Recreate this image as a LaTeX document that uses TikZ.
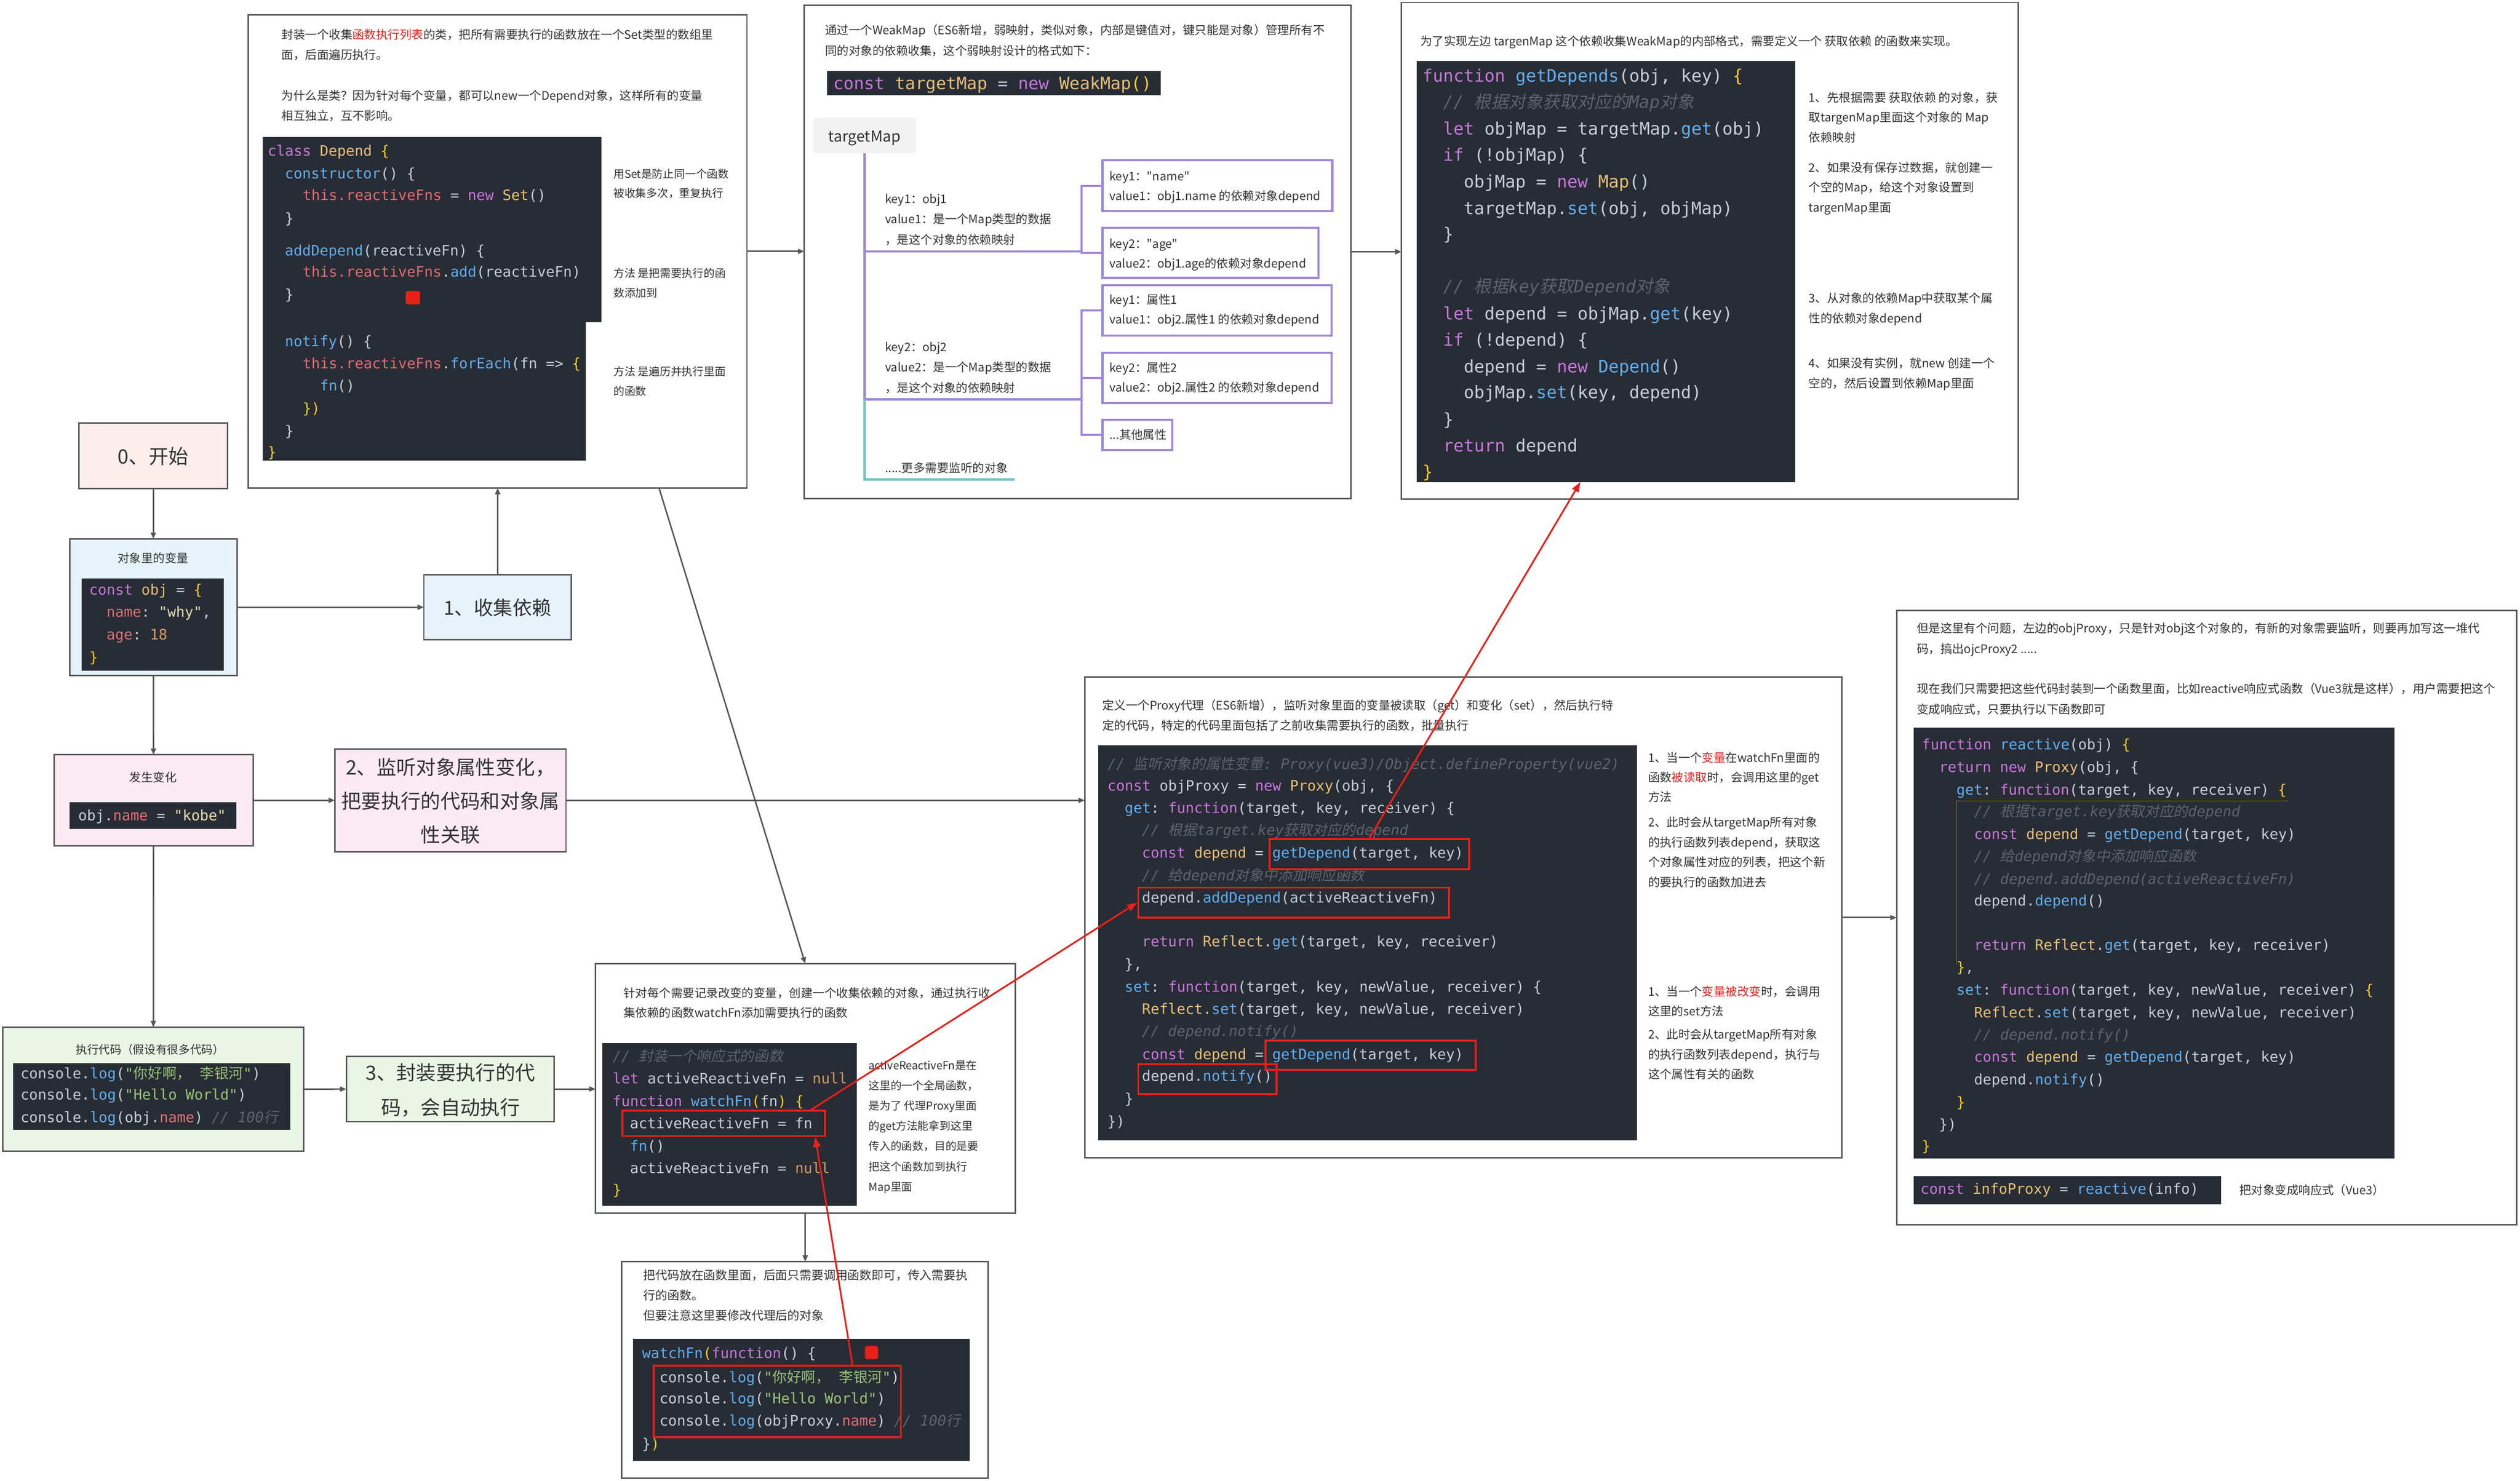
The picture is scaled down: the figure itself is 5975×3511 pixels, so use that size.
\documentclass[tikz,border=0pt]{standalone}
\usepackage{fontspec}
\setmainfont{Noto Sans CJK SC}
\setmonofont{DejaVu Sans Mono}
\newfontfamily\zhfont{Noto Sans CJK SC}
\newfontfamily\zhslant[FakeSlant=0.2]{Noto Sans CJK SC}
\usetikzlibrary{arrows.meta,fit}
\definecolor{cbg}{HTML}{282C34}
\definecolor{ckw}{HTML}{C678DD}
\definecolor{cfn}{HTML}{61AFEF}
\definecolor{cty}{HTML}{E5C07B}
\definecolor{cst}{HTML}{98C379}
\definecolor{cstp}{HTML}{E3DDB0}
\definecolor{cpr}{HTML}{E06C75}
\definecolor{cnum}{HTML}{D19A66}
\definecolor{ccm}{HTML}{5C6370}
\definecolor{cbr}{HTML}{F2CB2A}
\definecolor{ctx}{HTML}{C8CCD4}
\definecolor{cred}{HTML}{E8201A}
\definecolor{cline}{HTML}{585858}
\definecolor{ctext}{HTML}{333333}
\definecolor{cpur}{HTML}{A086D9}
\definecolor{cteal}{HTML}{6FC7C1}
\definecolor{pstart}{HTML}{FCEEEC}
\definecolor{pblue}{HTML}{E5F3FA}
\definecolor{ppink}{HTML}{FBEAF4}
\definecolor{pgreen}{HTML}{EAF5E6}
\definecolor{lgrey}{HTML}{F2F2F2}
\newcommand\zh[1]{{\zhfont #1}}
\newcommand\Ckw[1]{\textcolor{ckw}{#1}}
\newcommand\Cfn[1]{\textcolor{cfn}{#1}}
\newcommand\Cty[1]{\textcolor{cty}{#1}}
\newcommand\Cst[1]{\textcolor{cst}{#1}}
\newcommand\Csp[1]{\textcolor{cstp}{#1}}
\newcommand\Cpr[1]{\textcolor{cpr}{#1}}
\newcommand\Cnum[1]{\textcolor{cnum}{#1}}
\newcommand\Cbr[1]{\textcolor{cbr}{#1}}
\newcommand\Ccm[1]{{\color{ccm}\itshape\def\zh##1{{\zhslant ##1}}#1}}
\newcommand\rd[1]{\textcolor{cred}{#1}}
\newcounter{cln}
\newcommand\cl[4][codeline]{\stepcounter{cln}\node[#1] (cl\arabic{cln}) at (#2,#3) {#4};}
\tikzset{
  boxst/.style={draw=cline, line width=0.035cm, inner sep=0pt, outer sep=0pt},
  codebg/.style={fill=cbg, inner sep=0pt, outer sep=0pt},
  redbox/.style={draw=cred, line width=0.045cm, inner sep=0pt},
  purbox/.style={draw=cpur, line width=0.05cm, inner sep=0pt},
  garrow/.style={draw=cline, line width=0.035cm, -{Triangle[length=0.15cm,width=0.12cm]}},
  rarrow/.style={draw=cred, line width=0.04cm, -{Triangle[length=0.24cm,width=0.17cm]}},
  pline/.style={draw=cpur, line width=0.05cm},
  tline/.style={draw=cteal, line width=0.05cm},
  txt/.style={anchor=base west, inner sep=0pt, align=left, text=ctext, font=\fontsize{7.97pt}{13.37pt}\selectfont},
  codeline/.style={anchor=base west, inner sep=0pt, text=ctx, font=\fontsize{9.73pt}{12pt}\selectfont\ttfamily},
  codelineL/.style={codeline, font=\fontsize{11.58pt}{14pt}\selectfont\ttfamily},
  steptext/.style={inner sep=0pt, align=center, text=ctext},
}
\begin{document}
\begin{tikzpicture}[x=0.01cm,y=-0.01cm]
\useasboundingbox (0,0) rectangle (5975,3511);
\fill[white] (0,0) rectangle (5975,3511);

% ================= top-left box (Depend class)
\node[boxst, fit={(589,35)(1771,1157)}] (tl) {};
\node[txt, font=\fontsize{7.97pt}{13.66pt}\selectfont] (tlh) at (667,285) {封装一个收集\rd{函数执行列表}的类，把所有需要执行的函数放在一个Set类型的数组里\\面，后面遍历执行。\\[13.66pt]为什么是类？因为针对每个变量，都可以new一个Depend对象，这样所有的变量\\相互独立，互不影响。};
\fill[cbg] (623,325) -- (1426,325) -- (1426,764) -- (1389,764) -- (1389,1092) -- (623,1092) -- cycle;
\cl{634}{370}{\Ckw{class} \Cty{Depend} \Cbr{\{}}
\cl{675}{424}{\Cfn{constructor}() \{}
\cl{717}{475}{\Cpr{this.reactiveFns} = \Ckw{new} \Cty{Set}()}
\cl{675}{530}{\}}
\cl{675}{606}{\Cfn{addDepend}(reactiveFn) \{}
\cl{717}{657}{\Cpr{this.reactiveFns}.\Cfn{add}(reactiveFn)}
\cl{675}{711}{\}}
\cl{675}{822}{\Cfn{notify}() \{}
\cl{717}{874}{\Cpr{this.reactiveFns}.\Cfn{forEach}(fn => \Cbr{\{}}
\cl{758}{927}{\Cfn{fn}()}
\cl{717}{981}{\Cbr{\})}}
\cl{675}{1034}{\}}
\cl{634}{1085}{\Cbr{\}}}
\node[fill=cred, rounded corners=0.05cm, inner sep=0pt, fit={(962,690)(996,722)}] (rsq1) {};
\node[txt, font=\fontsize{7.4pt}{13.1pt}\selectfont] (tln1) at (1454,468) {用Set是防止同一个函数\\被收集多次，重复执行};
\node[txt, font=\fontsize{7.4pt}{13.37pt}\selectfont] (tln2) at (1454,705) {方法 是把需要执行的函\\数添加到};
\node[txt, font=\fontsize{7.4pt}{13.1pt}\selectfont] (tln3) at (1454,937) {方法 是遍历并执行里面\\的函数};

% ================= top-middle box (WeakMap)
\node[boxst, fit={(1907,12)(3203,1182)}] (tm) {};
\node[txt, font=\fontsize{7.97pt}{13.94pt}\selectfont] (tmh) at (1956,131) {通过一个WeakMap（ES6新增，弱映射，类似对象，内部是键值对，键只能是对象）管理所有不\\同的对象的依赖收集，这个弱映射设计的格式如下：};
\node[codebg, fit={(1961,168)(2752,226)}] (wmb) {};
\node[codeline, font=\fontsize{11.5pt}{14pt}\selectfont\ttfamily] (wmt) at (1975,212) {\Ckw{const} \Cty{targetMap} = \Ckw{new} \Cty{WeakMap}\Cbr{()}};
\node[fill=lgrey, rounded corners=0.08cm, inner sep=0pt, fit={(1928,279)(2172,363)}] (tml) {};
\node[steptext, font=\fontsize{10.24pt}{12pt}\selectfont] (tmlt) at (2050,328) {targetMap};
\coordinate (t1) at (2050,596);
\coordinate (t2) at (2050,947);
\coordinate (j1) at (2564,596);
\coordinate (j2) at (2564,947);
\coordinate (t3) at (2050,1137);
\coordinate (t4) at (2405,1137);
\node[purbox, fit={(2614,380)(3159,501)}] (pb1) {};
\node[purbox, fit={(2614,540)(3126,659)}] (pb2) {};
\node[purbox, fit={(2614,676)(3157,796)}] (pb3) {};
\node[purbox, fit={(2614,836)(3157,956)}] (pb4) {};
\node[purbox, fit={(2614,995)(2780,1067)}] (pb5) {};
\draw[pline] (tml.south) -- (t2);
\draw[pline] (t1) -- (j1);
\draw[pline] (t2) -- (j2);
\draw[pline] (pb1.west) -| (j1);
\draw[pline] (pb2.west) -| (j1);
\draw[pline] (pb3.west) -| (j2);
\draw[pline] (pb4.west) -| (j2);
\draw[pline] (pb5.west) -| (j2);
\draw[tline] (t2) -- (t3) -- (t4);
\node[txt, font=\fontsize{7.97pt}{13.8pt}\selectfont] (lab1) at (2098,579) {key1：obj1\\value1：是一个Map类型的数据\\，是这个对象的依赖映射};
\node[txt, font=\fontsize{7.97pt}{13.8pt}\selectfont] (lab2) at (2098,930) {key2：obj2\\value2：是一个Map类型的数据\\，是这个对象的依赖映射};
\node[txt] (lab3) at (2098,1120) {.....更多需要监听的对象};
\node[txt] (pbt1) at (2630,475) {key1：{\zhfont "name"}\\value1：obj1.name 的依赖对象depend};
\node[txt] (pbt2) at (2630,635) {key2：{\zhfont "age"}\\value2：obj1.age的依赖对象depend};
\node[txt] (pbt3) at (2630,768) {key1：属性1\\value1：obj2.属性1 的依赖对象depend};
\node[txt] (pbt4) at (2630,929) {key2：属性2\\value2：obj2.属性2 的依赖对象depend};
\node[txt] (pbt5) at (2630,1041) {...其他属性};

% ================= top-right box (getDepends)
\node[boxst, fit={(3323,6)(4785,1184)}] (tr) {};
\node[txt] (trh) at (3367,108) {为了实现左边 targenMap 这个依赖收集WeakMap的内部格式，需要定义一个 获取依赖 的函数来实现。};
\node[codebg, fit={(3359,145)(4256,1143)}] (trc) {};
\cl[codelineL]{3372}{194}{\Ckw{function} \Cfn{getDepends}(obj, key) \Cbr{\{}}
\cl[codelineL]{3421}{256}{\Ccm{// \zh{根据对象获取对应的}Map\zh{对象}}}
\cl[codelineL]{3421}{320}{\Ckw{let} objMap = targetMap.\Cfn{get}(obj)}
\cl[codelineL]{3421}{382}{\Ckw{if} (!objMap) \{}
\cl[codelineL]{3470}{445}{objMap = \Ckw{new} \Cty{Map}()}
\cl[codelineL]{3470}{508}{targetMap.\Cfn{set}(obj, objMap)}
\cl[codelineL]{3421}{570}{\}}
\cl[codelineL]{3421}{694}{\Ccm{// \zh{根据}key\zh{获取}Depend\zh{对象}}}
\cl[codelineL]{3421}{758}{\Ckw{let} depend = objMap.\Cfn{get}(key)}
\cl[codelineL]{3421}{820}{\Ckw{if} (!depend) \{}
\cl[codelineL]{3470}{884}{depend = \Ckw{new} \Cfn{Depend}()}
\cl[codelineL]{3470}{945}{objMap.\Cfn{set}(key, depend)}
\cl[codelineL]{3421}{1009}{\}}
\cl[codelineL]{3421}{1071}{\Ckw{return} depend}
\cl[codelineL]{3372}{1133}{\Cbr{\}}}
\node[txt] (trn1) at (4288,336) {1、先根据需要 获取依赖 的对象，获\\取targenMap里面这个对象的 Map\\依赖映射};
\node[txt] (trn2) at (4288,502) {2、如果没有保存过数据，就创建一\\个空的Map，给这个对象设置到\\targenMap里面};
\node[txt] (trn3) at (4288,765) {3、从对象的依赖Map中获取某个属\\性的依赖对象depend};
\node[txt] (trn4) at (4288,919) {4、如果没有实例，就new 创建一个\\空的，然后设置到依赖Map里面};

% ================= left column
\node[boxst, fill=pstart, fit={(187,1003)(540,1158)}] (s0) {};
\node[steptext, font=\fontsize{13.37pt}{16pt}\selectfont] (s0t) at (363,1082) {0、开始};
\node[boxst, fill=pblue, fit={(165,1278)(562,1602)}] (s1) {};
\node[steptext, font=\fontsize{7.97pt}{10pt}\selectfont] (s1t) at (363,1324) {对象里的变量};
\node[codebg, fit={(194,1372)(530,1590)}] (s1c) {};
\cl{211}{1411}{\Ckw{const} \Cty{obj} = \Cbr{\{}}
\cl{252}{1463}{\Cpr{name}: \Csp{"why"},}
\cl{252}{1517}{\Cpr{age}: \Cnum{18}}
\cl{211}{1571}{\Cbr{\}}}
\node[boxst, fill=pblue, fit={(1005,1363)(1355,1517)}] (c1) {};
\node[steptext, font=\fontsize{13.09pt}{16pt}\selectfont] (c1t) at (1180,1441) {1、收集依赖};
\node[boxst, fill=ppink, fit={(128,1790)(600,2006)}] (s2) {};
\node[steptext, font=\fontsize{7.97pt}{10pt}\selectfont] (s2t) at (363,1843) {发生变化};
\node[codebg, fit={(165,1902)(560,1966)}] (s2c) {};
\cl{185}{1946}{obj.\Cpr{name} = \Csp{"kobe"}}
\node[boxst, fill=ppink, fit={(794,1776)(1342,2020)}] (c2) {};
\node[steptext, font=\fontsize{13.37pt}{22.76pt}\selectfont] (c2t) at (1068,1900) {2、监听对象属性变化，\\把要执行的代码和对象属\\性关联};
\node[boxst, fill=pgreen, fit={(7,2436)(720,2730)}] (s3) {};
\node[steptext, font=\fontsize{7.7pt}{10pt}\selectfont] (s3t) at (356,2489) {执行代码（假设有很多代码）};
\node[codebg, fit={(31,2522)(688,2679)}] (s3c) {};
\cl{48}{2558}{console.\Cfn{log}(\Cst{"\zh{你好啊，} \zh{李银河}"})}
\cl{48}{2608}{console.\Cfn{log}(\Cst{"Hello World"})}
\cl{48}{2662}{console.\Cfn{log}(obj.\Cpr{name}) \Ccm{// 100\zh{行}}}
\node[boxst, fill=pgreen, fit={(821,2505)(1314,2660)}] (c3) {};
\node[steptext, font=\fontsize{13.37pt}{23.33pt}\selectfont] (c3t) at (1068,2585) {3、封装要执行的代\\码，会自动执行};

% ================= watchFn box
\node[boxst, fit={(1412,2285)(2407,2877)}] (wf) {};
\node[txt] (wfh) at (1478,2412) {针对每个需要记录改变的变量，创建一个收集依赖的对象，通过执行收\\集依赖的函数watchFn添加需要执行的函数};
\node[codebg, fit={(1428,2474)(2032,2859)}] (wfc) {};
\cl{1452}{2517}{\Ccm{// \zh{封装一个响应式的函数}}}
\cl{1452}{2570}{\Ckw{let} activeReactiveFn = \Cnum{null}}
\cl{1452}{2624}{\Ckw{function} \Cfn{watchFn}\Cbr{(}fn\Cbr{)} \Cbr{\{}}
\cl{1493}{2676}{activeReactiveFn = fn}
\cl{1493}{2730}{\Cfn{fn}()}
\cl{1493}{2783}{activeReactiveFn = \Cnum{null}}
\cl{1452}{2834}{\Cbr{\}}}
\node[redbox, fit={(1476,2634)(1956,2694)}] (rbA) {};
\node[txt, font=\fontsize{7.4pt}{13.66pt}\selectfont] (wfn) at (2059,2824) {activeReactiveFn是在\\这里的一个全局函数，\\是为了 代理Proxy里面\\的get方法能拿到这里\\传入的函数，目的是要\\把这个函数加到执行\\Map里面};

% ================= bottom box
\node[boxst, fit={(1474,2992)(2343,3505)}] (bt) {};
\node[txt, font=\fontsize{8.1pt}{13.5pt}\selectfont] (bth) at (1525,3130) {把代码放在函数里面，后面只需要调用函数即可，传入需要执\\行的函数。\\但要注意这里要修改代理后的对象};
\node[codebg, fit={(1501,3175)(2299,3464)}] (btc) {};
\cl{1522}{3221}{\Cfn{watchFn}\Cbr{(}\Ckw{function}() \{}
\cl{1563}{3278}{console.\Cfn{log}(\Cst{"\zh{你好啊，} \zh{李银河}"})}
\cl{1563}{3329}{console.\Cfn{log}(\Cst{"Hello World"})}
\cl{1563}{3381}{console.\Cfn{log}(objProxy.\Cpr{name}) \Ccm{// 100\zh{行}}}
\cl{1522}{3436}{\}\Cbr{)}}
\node[fill=cred, rounded corners=0.05cm, inner sep=0pt, fit={(2051,3192)(2082,3223)}] (rsq2) {};
\node[redbox, fit={(1550,3238)(2136,3408)}] (rbE) {};

% ================= Proxy box
\node[boxst, fit={(2572,1606)(4367,2746)}] (px) {};
\node[txt, font=\fontsize{7.97pt}{13.66pt}\selectfont] (pxh) at (2613,1731) {定义一个Proxy代理（ES6新增），监听对象里面的变量被读取（get）和变化（set），然后执行特\\定的代码，特定的代码里面包括了之前收集需要执行的函数，批量执行};
\node[codebg, fit={(2604,1767)(3881,2704)}] (pxc) {};
\cl{2625}{1824}{\Ccm{// \zh{监听对象的属性变量}: Proxy(vue3)/Object.defineProperty(vue2)}}
\cl{2625}{1875}{\Ckw{const} objProxy = \Ckw{new} \Cty{Proxy}(obj, \{}
\cl{2666}{1928}{\Cfn{get}: \Ckw{function}(target, key, receiver) \{}
\cl{2707}{1981}{\Ccm{// \zh{根据}target.key\zh{获取对应的}depend}}
\cl{2707}{2034}{\Ckw{const} \Cty{depend} = \Cfn{getDepend}(target, key)}
\cl{2707}{2088}{\Ccm{// \zh{给}depend\zh{对象中添加响应函数}}}
\cl{2707}{2141}{depend.\Cfn{addDepend}(activeReactiveFn)}
\cl{2707}{2245}{\Ckw{return} \Cty{Reflect}.\Cfn{get}(target, key, receiver)}
\cl{2666}{2298}{\},}
\cl{2666}{2352}{\Cfn{set}: \Ckw{function}(target, key, newValue, receiver) \{}
\cl{2707}{2405}{\Cty{Reflect}.\Cfn{set}(target, key, newValue, receiver)}
\cl{2707}{2458}{\Ccm{// depend.notify()}}
\cl{2707}{2512}{\Ckw{const} \Cty{depend} = \Cfn{getDepend}(target, key)}
\cl{2707}{2564}{depend.\Cfn{notify}()}
\cl{2666}{2618}{\}}
\cl{2625}{2671}{\})}
\node[redbox, fit={(3010,1990)(3483,2061)}] (rbC) {};
\node[redbox, fit={(2699,2105)(3436,2176)}] (rbB) {};
\node[redbox, fit={(3001,2468)(3499,2537)}] (rbD) {};
\node[redbox, fit={(2699,2524)(3027,2594)}] (rbF) {};
\node[txt] (pxn1) at (3907,1901) {1、当一个\rd{变量}在watchFn里面的\\函数\rd{被读取}时，会调用这里的get\\方法};
\node[txt] (pxn2) at (3907,2102) {2、此时会从targetMap所有对象\\的执行函数列表depend，获取这\\个对象属性对应的列表，把这个新\\的要执行的函数加进去};
\node[txt] (pxn3) at (3907,2409) {1、当一个\rd{变量被改变}时，会调用\\这里的set方法};
\node[txt] (pxn4) at (3907,2558) {2、此时会从targetMap所有对象\\的执行函数列表depend，执行与\\这个属性有关的函数};

% ================= right box (reactive)
\node[boxst, fit={(4497,1448)(5967,2904)}] (rb) {};
\node[txt, font=\fontsize{7.97pt}{13.94pt}\selectfont] (rbh1) at (4544,1549) {但是这里有个问题，左边的objProxy，只是针对obj这个对象的，有新的对象需要监听，则要再加写这一堆代\\码，搞出ojcProxy2 .....};
\node[txt, font=\fontsize{7.97pt}{13.94pt}\selectfont] (rbh2) at (4544,1693) {现在我们只需要把这些代码封装到一个函数里面，比如reactive响应式函数（Vue3就是这样），用户需要把这个\\变成响应式，只要执行以下函数即可};
\node[codebg, fit={(4537,1725)(5677,2747)}] (rbc) {};
\draw[cbr!60!cbg, line width=0.012cm] (4638,1900) -- (5424,1900);
\draw[cbr!60!cbg, line width=0.012cm] (4638,1900) -- (4638,2288);
\cl{4556}{1777}{\Ckw{function} \Cfn{reactive}(obj) \Cbr{\{}}
\cl{4597}{1831}{\Ckw{return} \Ckw{new} \Cty{Proxy}(obj, \{}
\cl{4638}{1885}{\Cfn{get}: \Ckw{function}(target, key, receiver) \Cbr{\{}}
\cl{4680}{1937}{\Ccm{// \zh{根据}target.key\zh{获取对应的}depend}}
\cl{4680}{1990}{\Ckw{const} \Cty{depend} = \Cfn{getDepend}(target, key)}
\cl{4680}{2043}{\Ccm{// \zh{给}depend\zh{对象中添加响应函数}}}
\cl{4680}{2097}{\Ccm{// depend.addDepend(activeReactiveFn)}}
\cl{4680}{2148}{depend.\Cfn{depend}()}
\cl{4680}{2253}{\Ckw{return} \Cty{Reflect}.\Cfn{get}(target, key, receiver)}
\cl{4638}{2306}{\Cbr{\}},}
\cl{4638}{2360}{\Cfn{set}: \Ckw{function}(target, key, newValue, receiver) \Cbr{\{}}
\cl{4680}{2413}{\Cty{Reflect}.\Cfn{set}(target, key, newValue, receiver)}
\cl{4680}{2466}{\Ccm{// depend.notify()}}
\cl{4680}{2519}{\Ckw{const} \Cty{depend} = \Cfn{getDepend}(target, key)}
\cl{4680}{2572}{depend.\Cfn{notify}()}
\cl{4638}{2626}{\Cbr{\}}}
\cl{4597}{2679}{\})}
\cl{4556}{2730}{\Cbr{\}}}
\node[codebg, fit={(4537,2789)(5266,2856)}] (rbb) {};
\cl{4553}{2831}{\Ckw{const} \Cty{infoProxy} = \Cfn{reactive}(info)}
\node[txt] (rbl) at (5309,2833) {把对象变成响应式（Vue3）};

% ================= connectors
\draw[garrow] (s0) -- (s1);
\draw[garrow] (s1) -- (s2);
\draw[garrow] (s2) -- (s3);
\draw[garrow] (s1) -- (c1);
\draw[garrow] (c1.north) -- (c1.north |- tl.south);
\draw[garrow] (s2) -- (c2);
\draw[garrow] (c2.east) -- (c2.east -| px.west);
\draw[garrow] (s3) -- (c3);
\draw[garrow] (c3.east) -- (c3.east -| wf.west);
\draw[garrow] ([xshift=9.73cm]tl.south west) -- ([xshift=4.97cm]wf.north west);
\draw[garrow] ([xshift=4.97cm]wf.south west) -- ([xshift=4.97cm]bt.north west -| wf.south west) ;
\draw[garrow] (tl.east) -- (tl.east -| tm.west);
\draw[garrow] (tm.east) -- (tm.east -| tr.west);
\draw[garrow] (px.east) -- (px.east -| rb.west);
\draw[rarrow] ([xshift=4.49cm]rbA.north west) -- (rbB.west);
\draw[rarrow] ([xshift=4.73cm]rbE.north west) -- ([xshift=4.59cm]rbA.south west);
\draw[rarrow] ([xshift=2.39cm]rbC.north west) -- ([xshift=3.88cm]trc.south west);
\end{tikzpicture}
\end{document}
